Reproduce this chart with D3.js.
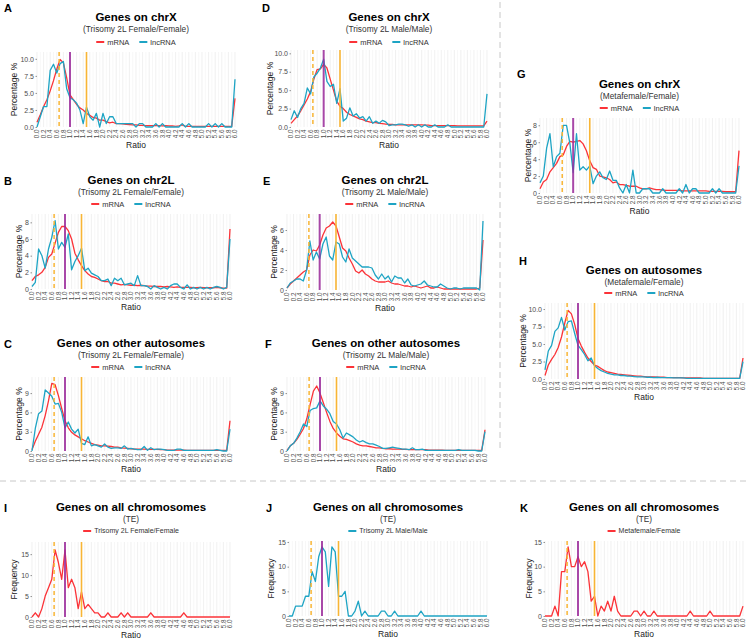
<!DOCTYPE html>
<html><head><meta charset="utf-8">
<script src="https://cdn.jsdelivr.net/npm/d3@7"></script>
<style>body{margin:0;background:#fff}text{font-family:"Liberation Sans",Arial,sans-serif}</style>
</head><body><svg id="chart" width="747" height="639"></svg>
<script>
const ratio = [0.0,0.1,0.2,0.3,0.4,0.5,0.6,0.7,0.8,0.9,1.0,1.1,1.2,1.3,1.4,1.5,1.6,1.7,1.8,1.9,2.0,2.1,2.2,2.3,2.4,2.5,2.6,2.7,2.8,2.9,3.0,3.1,3.2,3.3,3.4,3.5,3.6,3.7,3.8,3.9,4.0,4.1,4.2,4.3,4.4,4.5,4.6,4.7,4.8,4.9,5.0,5.1,5.2,5.3,5.4,5.5,5.6,5.7,5.8,5.9,6.0];
const ratioTickLabels = ["0.0","0.2","0.4","0.6","0.8","1.0","1.2","1.4","1.6","1.8","2.0","2.2","2.4","2.6","2.8","3.0","3.2","3.4","3.6","3.8","4.0","4.2","4.4","4.6","4.8","5.0","5.2","5.4","5.6","5.8","6.0"];
const refLines = {dashed:0.67, middle:1.0, upper:1.5};

// A: chrX, Trisomy 2L Female/Female
const A_mRNA = [0.7,1.8,3.0,4.0,5.3,6.8,8.5,9.9,9.4,7.2,4.7,4.0,3.3,2.8,2.5,2.0,1.7,1.4,1.3,1.0,1.0,0.8,0.6,0.7,0.5,0.5,0.45,0.4,0.35,0.3,0.3,0.25,0.25,0.2,0.2,0.2,0.2,0.2,0.15,0.2,0.15,0.15,0.1,0.15,0.3,0.1,0.1,0.1,0.1,0.1,0.1,0.1,0.1,0.1,0.1,0.1,0.1,0.1,0.1,0.1,4.2];
const A_lncRNA = [0,1.5,3.0,3.0,8.3,9.2,7.9,9.3,9.6,5.6,4.3,4.0,3.5,2.5,0.5,2.9,1.5,1.0,2.0,0.0,2.0,0.5,1.5,1.5,0.5,0.5,0.5,0.5,0.5,0.5,0.0,0.5,0.5,0,0,0,0.5,0,0.5,0,0,0,0,0,0.5,0,0.5,0,0,0,0,0,0.5,0,0.5,0,0.5,0,0,0,7.0];
// B: chr2L, Trisomy 2L Female/Female
const B_mRNA = [1.0,1.5,1.7,2.0,2.6,3.8,4.2,5.5,6.8,7.5,7.5,7.0,6.0,4.3,3.5,2.8,2.2,1.8,1.5,1.4,1.2,1.0,0.9,0.9,0.7,0.7,0.6,0.5,0.55,0.5,0.45,0.45,0.4,0.45,0.4,0.35,0.35,0.3,0.3,0.3,0.25,0.3,0.25,0.2,0.25,0.2,0.2,0.2,0.2,0.15,0.15,0.2,0.15,0.15,0.15,0.15,0.2,0.15,0.1,0.1,7.2];
const B_lncRNA = [0.3,0.8,4.8,4.0,2.5,4.8,6.2,8.2,4.8,5.6,5.0,6.6,2.3,3.3,4.0,4.9,2.2,2.5,1.9,1.7,1.5,1.0,1.0,1.2,0.4,1.3,1.0,1.3,0.5,0.6,0.7,0.4,1.6,0.4,0.4,0.3,0.0,0.4,0.2,0.0,0.2,0.0,0.4,0.6,0.6,0.2,0.0,0.5,0.0,0.2,0.0,0.2,0.0,0.2,0.0,0.2,0.3,0.2,0.0,0.2,6.0];
// C: other autosomes, Trisomy 2L Female/Female
const C_mRNA = [0.2,1.5,2.6,3.7,5.5,7.8,10.5,10.3,8.6,6.6,4.7,3.6,2.9,2.5,2.2,1.9,1.6,1.4,1.2,1.0,0.9,0.8,0.8,0.75,0.7,0.6,0.6,0.5,0.45,0.4,0.35,0.3,0.3,0.3,0.3,0.25,0.25,0.25,0.25,0.2,0.2,0.15,0.15,0.15,0.15,0.15,0.15,0.1,0.1,0.1,0.1,0.1,0.1,0.1,0.1,0.1,0.1,0.1,0.1,0.1,4.7];
const C_lncRNA = [0.0,3.5,5.8,6.2,9.5,9.0,8.5,7.3,7.4,6.0,3.6,4.5,3.4,2.8,3.4,1.2,1.0,2.2,0.8,1.0,0.8,0.6,1.1,0.6,0.4,0.5,0.5,0.4,0.8,0.3,0.4,0.3,0.2,0.2,0.7,0.1,0.5,0.2,0.3,0.3,0.2,0.1,0.1,0.1,0.3,0.3,0.1,0.1,0.1,0.1,0.1,0.1,0.1,0.1,0.1,0.1,0.2,0.1,0.0,0.0,3.4];
// D: chrX, Trisomy 2L Male/Male
const D_mRNA = [0.5,1.0,1.5,2.2,3.0,3.8,4.8,6.5,7.8,7.9,8.5,8.0,6.5,5.0,3.5,2.8,2.5,2.0,1.7,1.5,1.3,1.1,1.0,0.8,0.7,0.6,0.6,0.5,0.45,0.4,0.35,0.35,0.3,0.3,0.3,0.3,0.3,0.3,0.3,0.3,0.3,0.25,0.25,0.2,0.2,0.2,0.2,0.2,0.2,0.2,0.2,0.15,0.15,0.15,0.15,0.15,0.15,0.15,0.15,0.15,0.8];
const D_lncRNA = [1.0,2.2,1.3,2.5,3.2,5.3,4.5,6.8,7.3,8.0,9.2,6.2,5.5,5.8,3.2,5.2,0.8,1.2,2.6,1.5,1.8,1.2,1.4,0.8,1.4,0.5,0.8,0.5,0.9,0.7,0.2,0.3,0.3,0.4,0.4,0.3,0.1,0.3,0.0,0.3,0.0,0.3,0.0,0.0,0.3,0.0,0.0,0.0,0.3,0.0,0.0,0.0,0.0,0.0,0.0,0.0,0.0,0.0,0.0,0.0,4.5];
// E: chr2L, Trisomy 2L Male/Male
const E_mRNA = [0.2,0.6,0.9,1.2,1.5,1.8,2.0,3.5,4.0,3.9,4.5,5.5,6.2,6.4,6.8,6.4,5.3,4.2,3.9,3.2,2.6,1.9,1.7,2.0,1.6,1.4,1.1,0.9,0.8,0.8,0.8,0.9,0.7,0.6,0.6,0.5,0.4,0.4,0.3,0.4,0.3,0.2,0.3,0.4,0.2,0.2,0.3,0.2,0.1,0.1,0.1,0.1,0.1,0.1,0.1,0.1,0.1,0.1,0.1,0.2,5.0];
const E_lncRNA = [0.2,0.7,0.9,1.1,1.1,0.9,2.0,4.9,3.0,3.8,3.1,4.6,5.3,3.4,3.0,4.8,4.6,3.3,2.8,4.1,3.2,2.9,2.6,2.3,2.3,2.3,2.2,1.5,1.1,1.6,1.1,1.4,0.8,1.4,1.2,1.2,0.7,1.1,0.5,0.4,0.5,0.6,0.9,0.5,0.4,0.3,0.3,0.6,0.4,0.2,0.1,0.2,0.2,0.1,0.2,0.2,0.2,0.2,0.2,0.0,6.9];
// F: other autosomes, Trisomy 2L Male/Male
const F_mRNA = [0.1,0.8,1.2,1.8,2.6,3.5,5.0,7.2,9.3,10.1,9.0,7.5,6.0,4.6,3.5,2.8,2.3,1.9,1.8,1.6,1.4,1.1,0.9,0.8,0.8,0.7,0.6,0.5,0.5,0.4,0.35,0.35,0.3,0.3,0.3,0.25,0.25,0.2,0.2,0.2,0.2,0.2,0.2,0.15,0.15,0.15,0.15,0.15,0.1,0.1,0.1,0.1,0.1,0.1,0.1,0.1,0.1,0.1,0.1,0.1,3.3];
const F_lncRNA = [0.0,0.8,1.2,2.0,3.0,4.2,3.8,6.3,6.6,6.7,7.8,7.0,6.5,5.8,4.6,4.2,3.3,2.0,2.8,2.5,2.2,1.7,1.4,1.6,1.3,1.1,1.1,0.9,0.7,0.4,0.4,0.5,0.6,0.5,0.4,0.3,0.3,0.2,0.5,0.2,0.2,0.3,0.1,0.1,0.1,0.1,0.1,0.1,0.1,0.1,0.1,0.1,0.2,0.1,0.1,0.1,0.1,0.1,0.0,0.0,3.0];
// G: chrX, Metafemale/Female
const G_mRNA = [0.5,1.3,1.6,2.5,3.0,3.5,4.3,4.5,5.5,6.1,6.0,6.1,6.2,5.8,5.0,3.8,3.0,2.8,2.0,1.9,1.8,1.6,1.2,1.3,1.0,1.0,0.9,0.8,0.8,0.8,0.6,0.5,0.5,0.6,0.5,0.4,0.4,0.35,0.3,0.3,0.3,0.3,0.3,0.25,0.25,0.25,0.25,0.25,0.25,0.25,0.25,0.2,0.2,0.2,0.2,0.2,0.15,0.15,0.15,0.15,5.0];
const G_lncRNA = [1.2,2.0,5.3,7.0,3.1,4.3,4.7,8.0,8.0,5.9,2.4,7.0,2.7,3.1,2.7,3.2,1.1,2.0,2.5,1.8,1.6,2.6,1.5,1.5,0.6,0.0,1.0,0.0,2.7,0.0,0.0,0.5,0.5,0.5,0.0,0.0,0.0,0.5,0.0,0.0,0.0,0.0,0.5,0.0,1.0,0.0,0.5,0.5,0.0,0.0,0.0,0.0,0.5,0.0,0.5,0.0,0.0,0.0,0.0,0.0,3.2];
// H: autosomes, Metafemale/Female
const H_mRNA = [0.5,2.0,2.8,3.5,4.5,6.0,8.0,9.8,9.3,7.8,5.8,4.7,3.8,3.0,2.5,2.0,1.8,1.5,1.2,1.0,0.9,0.8,0.7,0.65,0.6,0.55,0.5,0.45,0.4,0.4,0.35,0.3,0.3,0.3,0.25,0.25,0.25,0.2,0.2,0.2,0.2,0.2,0.15,0.15,0.15,0.15,0.15,0.15,0.1,0.1,0.1,0.1,0.1,0.1,0.1,0.1,0.1,0.1,0.1,0.1,3.0];
const H_lncRNA = [1.3,4.0,4.8,6.8,7.3,8.8,7.0,8.2,8.3,6.5,4.8,4.2,3.5,2.6,3.0,1.9,1.5,1.2,1.0,0.8,0.7,0.6,0.6,0.5,0.5,0.4,0.4,0.35,0.3,0.3,0.3,0.25,0.25,0.2,0.25,0.2,0.2,0.2,0.2,0.15,0.15,0.15,0.15,0.1,0.1,0.1,0.1,0.1,0.1,0.1,0.1,0.1,0.1,0.1,0.1,0.1,0.1,0.1,0.1,0.1,2.5];
// I, J, K: TE, all chromosomes (frequency)
const I_TE = [0,1,0,2,5,7,9,16,13,9,16,7,9,7,2,6,2,3,2,1,1,0,0,1,0,0,0,1,0,1,0,0,0,0,0,0,1,0,0,0,0,0,0,0,0,0,1,0,0,0,0,0,0,0,0,0,0,0,0,0,0];
const J_TE = [0,0,2,2,2,4,4,9,7,12,14,13,6,14,13,4,4,5,0,0,1,3,0,1,0,0,0,0,1,1,0,0,1,0,0,0,0,0,0,0,1,0,0,0,0,0,0,0,0,0,0,0,0,0,0,0,0,0,0,0,0];
const K_TE = [0,0,0,2,0,9,9,14,10,10,12,10,11,9,3,4,0,2,1,3,1,4,1,0,0,0,0,1,1,0,1,0,0,1,0,0,0,0,0,0,0,0,0,0,1,0,0,0,0,0,1,0,0,0,0,0,0,0,0,0,2];

const pctTicks10 = [0,2.5,5,7.5,10];
const ticks2to8 = [0,2,4,6,8];
const ticks2to6 = [0,2,4,6];
const ticks3to9 = [0,3,6,9];
const freqTicks = [0,5,10,15];

const RED = "#fb3338", TEAL = "#1ea4c4";
const ORANGE = "#f8b535", PURPLE = "#9b2a9b";

const panels = [
 {letter:"A", title:"Genes on chrX", sub:"(Trisomy 2L Female/Female)", ylab:"Percentage %",
  series:[["mRNA",A_mRNA,RED],["lncRNA",A_lncRNA,TEAL]], yMax:11.0, yTicks:pctTicks10, fmt:".1f",
  box:[37,235,52,127], letterXY:[4,12], titleY:21, subY:32, legY:42, yLabX:14},
 {letter:"B", title:"Genes on chr2L", sub:"(Trisomy 2L Female/Female)", ylab:"Percentage %",
  series:[["mRNA",B_mRNA,RED],["lncRNA",B_lncRNA,TEAL]], yMax:9.0, yTicks:ticks2to8, fmt:"d",
  box:[32,230,214,289], letterXY:[4,185], titleY:184, subY:195, legY:204, yLabX:19},
 {letter:"C", title:"Genes on other autosomes", sub:"(Trisomy 2L Female/Female)", ylab:"Percentage %",
  series:[["mRNA",C_mRNA,RED],["lncRNA",C_lncRNA,TEAL]], yMax:11.5, yTicks:ticks3to9, fmt:"d",
  box:[32,230,377,451], letterXY:[4,348], titleY:347, subY:358, legY:367, yLabX:19},
 {letter:"D", title:"Genes on chrX", sub:"(Trisomy 2L Male/Male)", ylab:"Percentage %",
  series:[["mRNA",D_mRNA,RED],["lncRNA",D_lncRNA,TEAL]], yMax:10.45, yTicks:pctTicks10, fmt:".1f",
  box:[291,487,50,127], letterXY:[262,12], titleY:21, subY:32, legY:42, yLabX:270},
 {letter:"E", title:"Genes on chr2L", sub:"(Trisomy 2L Male/Male)", ylab:"Percentage %",
  series:[["mRNA",E_mRNA,RED],["lncRNA",E_lncRNA,TEAL]], yMax:7.6, yTicks:ticks2to6, fmt:"d",
  box:[287,483,214,290], letterXY:[263,185], titleY:184, subY:195, legY:204, yLabX:274},
 {letter:"F", title:"Genes on other autosomes", sub:"(Trisomy 2L Male/Male)", ylab:"Percentage %",
  series:[["mRNA",F_mRNA,RED],["lncRNA",F_lncRNA,TEAL]], yMax:11.5, yTicks:ticks3to9, fmt:"d",
  box:[287,485,377,451], letterXY:[265,348], titleY:347, subY:358, legY:367, yLabX:274},
 {letter:"G", title:"Genes on chrX", sub:"(Metafemale/Female)", ylab:"Percentage %",
  series:[["mRNA",G_mRNA,RED],["lncRNA",G_lncRNA,TEAL]], yMax:8.86, yTicks:ticks2to8, fmt:"d",
  box:[540,739,118,193], letterXY:[517,78], titleY:88, subY:99, legY:108, yLabX:528},
 {letter:"H", title:"Genes on autosomes", sub:"(Metafemale/Female)", ylab:"Percentage %",
  series:[["mRNA",H_mRNA,RED],["lncRNA",H_lncRNA,TEAL]], yMax:10.86, yTicks:pctTicks10, fmt:".1f",
  box:[545,743,303,379], letterXY:[519,265], titleY:274, subY:285, legY:293, yLabX:523},
 {letter:"I", title:"Genes on all chromosomes", sub:"(TE)", ylab:"Frequency",
  series:[["Trisomy 2L Female/Female",I_TE,RED]], yMax:17.9, yTicks:freqTicks, fmt:"d",
  box:[32,230,542,617], letterXY:[4,512], titleY:511, subY:522, legY:531, yLabX:14},
 {letter:"J", title:"Genes on all chromosomes", sub:"(TE)", ylab:"Frequency",
  series:[["Trisomy 2L Male/Male",J_TE,TEAL]], yMax:15.2, yTicks:freqTicks, fmt:"d",
  box:[289,487,541,616], letterXY:[266,512], titleY:511, subY:522, legY:531, yLabX:271},
 {letter:"K", title:"Genes on all chromosomes", sub:"(TE)", ylab:"Frequency",
  series:[["Metafemale/Female",K_TE,RED]], yMax:15.2, yTicks:freqTicks, fmt:"d",
  box:[545,743,541,616], letterXY:[520,512], titleY:511, subY:522, legY:531, yLabX:529}
];

const svg = d3.select("#chart");

// separators
svg.append("line").attr("x1",500).attr("x2",500).attr("y1",2).attr("y2",448)
  .attr("stroke","#c8c8c8").attr("stroke-width",1).attr("stroke-dasharray","6,4");
svg.append("line").attr("x1",0).attr("x2",747).attr("y1",481).attr("y2",481)
  .attr("stroke","#c8c8c8").attr("stroke-width",1).attr("stroke-dasharray","6,4");

panels.forEach(p => {
  const [x0,x1,y0,y1] = p.box;
  const g = svg.append("g");
  const x = d3.scaleLinear().domain([0,6]).range([x0,x1]);
  const y = d3.scaleLinear().domain([0,p.yMax]).range([y1,y0]);
  const cx = (x0+x1)/2;

  // vertical grid every 0.1
  g.append("g").selectAll("line").data(ratio).join("line")
    .attr("x1",d=>x(d)).attr("x2",d=>x(d)).attr("y1",y0).attr("y2",y1)
    .attr("stroke",(d,i)=> i%2===0 ? "#e6e6e6" : "#f1f1f1").attr("stroke-width",0.6);

  // x tick labels (rotated)
  g.append("g").selectAll("text").data(ratioTickLabels).join("text")
    .attr("transform",d=>`translate(${x(+d)},${y1+2.5}) rotate(-90)`)
    .attr("text-anchor","end").attr("dy","0.35em")
    .attr("font-size",6.3).attr("fill","#4d4d4d").text(d=>d);

  // y axis
  const yAxis = d3.axisLeft(y).tickValues(p.yTicks).tickSize(1.5).tickPadding(1.5)
    .tickFormat(d3.format(p.fmt));
  const ya = g.append("g").attr("transform",`translate(${x0},0)`).call(yAxis);
  ya.select(".domain").remove();
  ya.selectAll(".tick line").attr("stroke","#4d4d4d").attr("stroke-width",0.6);
  ya.selectAll(".tick text").attr("font-size",7).attr("fill","#4d4d4d")
    .attr("font-family","Liberation Sans, Arial, sans-serif");

  // data lines
  const line = d3.line().x((d,i)=>x(ratio[i])).y(d=>y(d));
  p.series.forEach(s => {
    g.append("path").datum(s[1]).attr("d",line).attr("fill","none")
      .attr("stroke",s[2]).attr("stroke-width",1.3).attr("stroke-linejoin","round");
  });

  // reference lines
  g.append("line").attr("x1",x(refLines.dashed)).attr("x2",x(refLines.dashed)).attr("y1",y0).attr("y2",y1)
    .attr("stroke",ORANGE).attr("stroke-width",1.5).attr("stroke-dasharray","4,3");
  g.append("line").attr("x1",x(refLines.middle)).attr("x2",x(refLines.middle)).attr("y1",y0).attr("y2",y1)
    .attr("stroke",PURPLE).attr("stroke-width",2).attr("opacity",0.85);
  g.append("line").attr("x1",x(refLines.upper)).attr("x2",x(refLines.upper)).attr("y1",y0).attr("y2",y1)
    .attr("stroke",ORANGE).attr("stroke-width",1.6);

  // axis titles
  g.append("text").attr("x",cx).attr("y",y1+21).attr("text-anchor","middle")
    .attr("font-size",8.5).attr("fill","#222").text("Ratio");
  g.append("text").attr("transform",`translate(${p.yLabX},${(y0+y1)/2}) rotate(-90)`)
    .attr("text-anchor","middle").attr("dy","0.35em")
    .attr("font-size",8.5).attr("fill","#222").text(p.ylab);

  // panel letter & titles
  g.append("text").attr("x",p.letterXY[0]).attr("y",p.letterXY[1]).attr("font-size",11)
    .attr("font-weight","bold").attr("fill","#000").text(p.letter);
  g.append("text").attr("x",cx).attr("y",p.titleY).attr("text-anchor","middle")
    .attr("font-size",11.5).attr("font-weight","bold").attr("fill","#000").text(p.title);
  g.append("text").attr("x",cx).attr("y",p.subY).attr("text-anchor","middle")
    .attr("font-size",8.3).attr("fill","#333").text(p.sub);

  // legend
  const lg = g.append("g");
  let off = 0;
  p.series.forEach((s,i) => {
    if (i>0) off += 10;
    lg.append("line").attr("x1",off).attr("x2",off+8).attr("y1",0).attr("y2",0)
      .attr("stroke",s[2]).attr("stroke-width",2);
    const t = lg.append("text").attr("x",off+11).attr("y",0).attr("dy","0.35em")
      .attr("font-size",p.series.length===1?7:7.5).attr("fill","#333").text(s[0]);
    off += 11 + t.node().getComputedTextLength();
  });
  lg.attr("transform",`translate(${cx-off/2},${p.legY})`);
});
</script></body></html>
